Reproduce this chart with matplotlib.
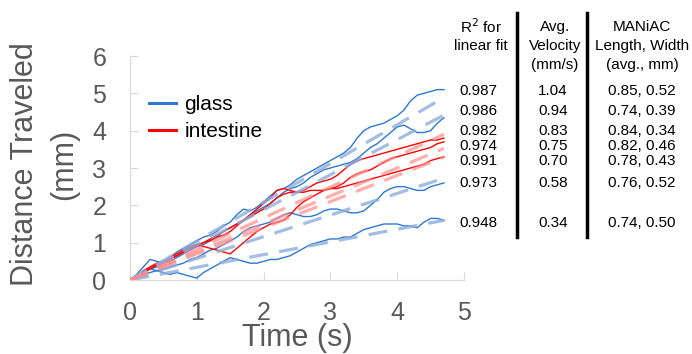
import numpy as np
import matplotlib.pyplot as plt
from matplotlib.lines import Line2D

plt.rcParams['font.family'] = ['Liberation Sans', 'DejaVu Sans']

# --- DATA ---
time_s = np.round(np.arange(0, 4.75, 0.1), 2)

glass_a = [0, 0.15, 0.35, 0.55, 0.5, 0.45, 0.6, 0.75, 0.85, 0.95, 1.05, 1.15, 1.2, 1.3, 1.45, 1.55,
           1.75, 1.9, 1.85, 1.95, 2.1, 2.25, 2.4, 2.45, 2.55, 2.7, 2.8, 2.9, 3.0, 3.1, 3.2, 3.3,
           3.4, 3.55, 3.8, 4.0, 4.1, 4.15, 4.2, 4.3, 4.4, 4.55, 4.8, 4.95, 5.0, 5.05, 5.1, 5.1]
glass_b = [0, 0.1, 0.2, 0.3, 0.35, 0.45, 0.5, 0.6, 0.7, 0.8, 0.9, 0.95, 1.05, 1.15, 1.3, 1.4,
           1.5, 1.6, 1.75, 1.85, 1.95, 2.05, 2.2, 2.35, 2.45, 2.5, 2.6, 2.75, 2.85, 2.95, 3.0, 3.05,
           3.1, 3.15, 3.25, 3.4, 3.55, 3.65, 3.8, 3.95, 4.1, 4.15, 4.05, 3.95, 3.95, 4.0, 4.2, 4.35]
glass_c = [0, 0.05, 0.15, 0.2, 0.25, 0.3, 0.35, 0.4, 0.45, 0.55, 0.6, 0.7, 0.8, 0.85, 0.95, 1.05,
           1.15, 1.3, 1.4, 1.45, 1.5, 1.55, 1.65, 1.75, 1.8, 1.75, 1.7, 1.7, 1.75, 1.85, 1.9, 1.9,
           1.85, 1.8, 1.8, 1.85, 2.0, 2.15, 2.35, 2.45, 2.5, 2.5, 2.45, 2.4, 2.4, 2.5, 2.55, 2.6]
glass_d = [0, 0.1, 0.2, 0.3, 0.25, 0.2, 0.15, 0.2, 0.15, 0.1, 0.05, 0.2, 0.3, 0.4, 0.5, 0.6,
           0.55, 0.5, 0.45, 0.45, 0.5, 0.55, 0.55, 0.6, 0.65, 0.75, 0.85, 0.95, 1.0, 1.05, 1.1, 1.1,
           1.15, 1.15, 1.25, 1.35, 1.4, 1.45, 1.5, 1.5, 1.5, 1.45, 1.45, 1.4, 1.55, 1.65, 1.65, 1.6]
intestine_e = [0, 0.1, 0.25, 0.35, 0.45, 0.5, 0.55, 0.65, 0.75, 0.85, 0.9, 1.0, 1.05, 1.15, 1.2, 1.3,
               1.45, 1.6, 1.75, 1.9, 2.05, 2.2, 2.4, 2.45, 2.4, 2.35, 2.4, 2.5, 2.6, 2.65, 2.7, 2.8,
               2.95, 3.1, 3.2, 3.25, 3.3, 3.35, 3.4, 3.45, 3.5, 3.55, 3.6, 3.65, 3.7, 3.75, 3.75, 3.8]
intestine_f = [0, 0.1, 0.2, 0.3, 0.4, 0.5, 0.6, 0.7, 0.8, 0.9, 0.95, 0.9, 0.85, 0.8, 0.75, 0.7,
               0.85, 1.0, 1.15, 1.3, 1.4, 1.5, 1.55, 1.6, 1.75, 1.95, 2.1, 2.2, 2.3, 2.4, 2.45, 2.5,
               2.6, 2.75, 2.85, 2.9, 2.95, 3.05, 3.15, 3.25, 3.3, 3.35, 3.4, 3.45, 3.5, 3.55, 3.65, 3.7]
intestine_g = [0, 0.1, 0.2, 0.3, 0.4, 0.45, 0.55, 0.65, 0.75, 0.85, 0.95, 1.0, 1.1, 1.2, 1.3, 1.4,
               1.5, 1.6, 1.7, 1.8, 1.9, 2.05, 2.2, 2.3, 2.35, 2.35, 2.35, 2.4, 2.4, 2.4, 2.45, 2.45,
               2.5, 2.55, 2.6, 2.65, 2.7, 2.75, 2.8, 2.85, 2.9, 2.95, 3.0, 3.05, 3.1, 3.2, 3.25, 3.3]

glass_runs = [glass_a, glass_b, glass_c, glass_d]
intestine_runs = [intestine_e, intestine_f, intestine_g]
glass_vel = [1.04, 0.94, 0.58, 0.34]
intestine_vel = [0.83, 0.75, 0.70]

# table rows, top to bottom
r2_vals = ["0.987", "0.986", "0.982", "0.974", "0.991", "0.973", "0.948"]
vel_vals = ["1.04", "0.94", "0.83", "0.75", "0.70", "0.58", "0.34"]
size_vals = ["0.85, 0.52", "0.74, 0.39", "0.84, 0.34", "0.82, 0.46", "0.78, 0.43", "0.76, 0.52", "0.74, 0.50"]
row_y = [91, 111, 131, 146, 161, 183, 223]  # pixel rows

# --- STYLE ---
BLUE = '#2E78D2'
RED = '#FF0000'
FIT_BLUE = '#8EAEDC'
FIT_RED = '#FF8C8C'
GRAY = '#595959'
AXIS_GRAY = '#D9D9D9'
W, H = 692, 354

fig = plt.figure(figsize=(W / 100, H / 100), dpi=100)
ax = fig.add_axes([130 / W, 1 - 280 / H, 334 / W, 224 / H])

for run in glass_runs:
    ax.plot(time_s, run, color=BLUE, lw=1.0, zorder=2)
for run in intestine_runs:
    ax.plot(time_s, run, color=RED, lw=1.0, zorder=3)

t_fit = np.array([0, time_s[-1]])
for v in glass_vel:
    ax.plot(t_fit, v * t_fit, color=FIT_BLUE, lw=2.3, ls=(0, (6, 3.5)), alpha=0.8, zorder=4)
for v in intestine_vel:
    ax.plot(t_fit, v * t_fit, color=FIT_RED, lw=2.3, ls=(0, (6, 3.5)), alpha=0.7, zorder=4)

ax.set_xlim(0, 5)
ax.set_ylim(0, 6)
ax.set_xticks(range(6))
ax.set_yticks(range(7))
for s in ['top', 'right']:
    ax.spines[s].set_visible(False)
for s in ['left', 'bottom']:
    ax.spines[s].set_color(AXIS_GRAY)
ax.tick_params(axis='y', direction='in', length=6, color=AXIS_GRAY, pad=17,
               labelsize=18, labelcolor=GRAY)
ax.tick_params(axis='x', direction='in', length=6, color=AXIS_GRAY, pad=15,
               labelsize=18, labelcolor=GRAY)
ax.set_xlabel('Time (s)', fontsize=22, color=GRAY, labelpad=-1)

fig.text(25 / W, 1 - 164 / H, 'Distance Traveled', rotation=90, ha='center', va='center',
         fontsize=22, color=GRAY)
fig.text(64 / W, 1 - 164 / H, '(mm)', rotation=90, ha='center', va='center',
         fontsize=22, color=GRAY)

handles = [Line2D([], [], color=BLUE, lw=2.2), Line2D([], [], color=RED, lw=2.2)]
ax.legend(handles, ['glass', 'intestine'], loc='upper left', bbox_to_anchor=(0.0, 0.91),
          frameon=False, fontsize=15, handlelength=1.3, handletextpad=0.4, labelspacing=0.4)

# --- TABLE ---
def fx(px):
    return px / W

def fy(py):
    return 1 - py / H

fs = 11
headers = [(481, ['R$^2$ for', 'linear fit']),
           (555, ['Avg.', 'Velocity', '(mm/s)']),
           (642, ['MANiAC', 'Length, Width', '(avg., mm)'])]
for px, lines in headers:
    for i, txt in enumerate(lines):
        fig.text(fx(px), fy(27 + 19 * i), txt, ha='center', va='center', fontsize=fs)

for r2, vel, sz, py in zip(r2_vals, vel_vals, size_vals, row_y):
    fig.text(fx(478), fy(py), r2, ha='center', va='center', fontsize=fs)
    fig.text(fx(553), fy(py), vel, ha='center', va='center', fontsize=fs)
    fig.text(fx(642), fy(py), sz, ha='center', va='center', fontsize=fs)

for px in [517, 587]:
    fig.add_artist(Line2D([fx(px), fx(px)], [fy(13), fy(237)], color='black', lw=2.5))

fig.savefig('out.png', dpi=100)
